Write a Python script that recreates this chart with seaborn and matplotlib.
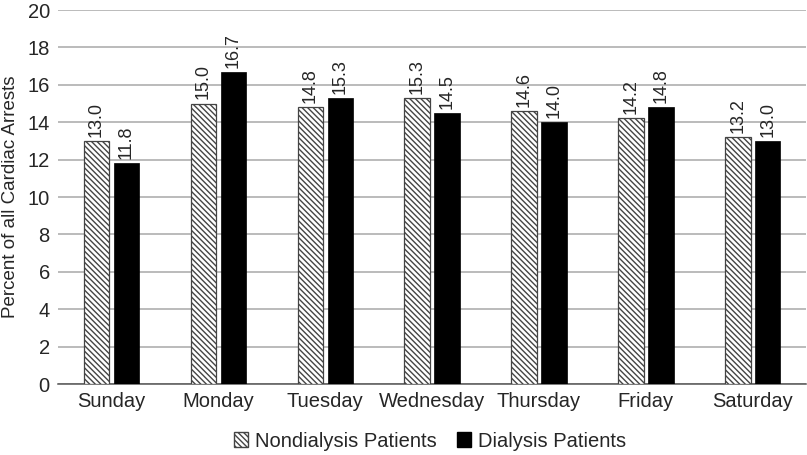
import numpy as np
import pandas as pd
import matplotlib
matplotlib.use("Agg")
import matplotlib.pyplot as plt
import seaborn as sns
from matplotlib.patches import Patch

days = ["Sunday", "Monday", "Tuesday", "Wednesday", "Thursday", "Friday", "Saturday"]
nondialysis = [13.0, 15.0, 14.8, 15.3, 14.6, 14.2, 13.2]
dialysis = [11.8, 16.7, 15.3, 14.5, 14.0, 14.8, 13.0]
groups = ["Nondialysis Patients", "Dialysis Patients"]

df = pd.DataFrame({
    "day": days * 2,
    "pct": nondialysis + dialysis,
    "group": [groups[0]] * len(days) + [groups[1]] * len(days),
})

sns.set_style("white")
plt.rcParams["font.family"] = ["Liberation Sans", "DejaVu Sans"]
plt.rcParams["hatch.linewidth"] = 1.0
plt.rcParams["hatch.color"] = "black"

fig = plt.figure(figsize=(8.07, 4.55), dpi=100)
ax = fig.add_axes([0.072, 0.156, 0.927, 0.822])

sns.barplot(data=df, x="day", y="pct", hue="group", order=days, hue_order=groups,
            palette=["white", "black"], width=0.56, gap=0.15, ax=ax,
            legend=False, zorder=3)

for i, cont in enumerate(ax.containers):
    for bar in cont:
        if i == 0:
            bar.set_hatch("\\\\\\\\\\\\")
            bar.set_edgecolor("#444444")
            bar.set_linewidth(0.9)
        else:
            bar.set_edgecolor("black")
            bar.set_linewidth(0.5)
    ax.bar_label(cont, fmt="%.1f", rotation=90, padding=3, fontsize=13)

ax.set_ylim(0, 20)
ax.set_xlim(-0.5, 6.5)
ax.set_yticks(np.arange(0, 21, 2))
ax.yaxis.grid(True, color="#a8a8a8", linewidth=1.1, zorder=0)
ax.set_axisbelow(True)
for s in ["top", "right", "left"]:
    ax.spines[s].set_visible(False)
ax.spines["bottom"].set_color("#555555")
ax.spines["bottom"].set_linewidth(1.1)
ax.tick_params(axis="both", length=0, labelsize=14.5, pad=6)
ax.set_xlabel("")
ax.set_ylabel("Percent of all Cardiac Arrests", fontsize=13.5, labelpad=6)

handles = [Patch(facecolor="white", edgecolor="#444444", hatch="\\\\\\\\\\\\"),
           Patch(facecolor="black", edgecolor="black")]
fig.legend(handles, groups, loc="lower center", bbox_to_anchor=(0.533, -0.03),
           ncol=2, frameon=False, fontsize=14.5, handlelength=0.7, handleheight=0.7,
           handletextpad=0.35, columnspacing=1.0)

fig.savefig("out.png", dpi=100)
